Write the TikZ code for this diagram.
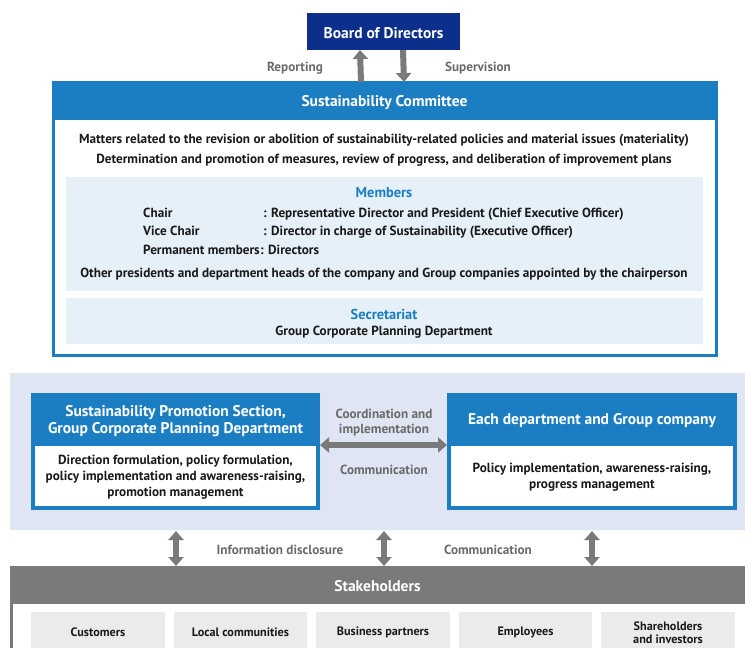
\documentclass[tikz,border=0pt]{standalone}
\usepackage{fontspec}
\setmainfont{PT Sans}
\usetikzlibrary{arrows.meta,calc}
\definecolor{navy}{HTML}{0B2F8A}
\definecolor{cblue}{HTML}{1B7EC2}
\definecolor{paleblue}{HTML}{E6F0F8}
\definecolor{lavender}{HTML}{DFE5F3}
\definecolor{arrowgray}{HTML}{7A7A7A}
\definecolor{labelgray}{HTML}{6A6A6A}
\definecolor{itemgray}{HTML}{EBEBEB}
\definecolor{ink}{HTML}{1A1A1A}
\tikzset{
  box/.style={anchor=north west, inner sep=0pt, outer sep=0pt},
  txt/.style={yshift=-1.5pt},
  title/.style={txt, font=\bfseries\fontsize{15.5}{17}\selectfont, text=white, align=center},
  body/.style={txt, font=\bfseries\fontsize{13.2}{16}\selectfont, text=ink, align=center, inner sep=0pt},
  row/.style={font=\bfseries\fontsize{13.2}{16}\selectfont, text=ink, inner sep=0pt, anchor=base west},
  sub/.style={txt, font=\bfseries\fontsize{14.4}{16}\selectfont, text=cblue, inner sep=0pt},
  lbl/.style={txt, font=\bfseries\fontsize{13.2}{14.5}\selectfont, text=labelgray, align=center, inner sep=0pt},
  item/.style={txt, font=\bfseries\fontsize{12.2}{13}\selectfont, text=ink, align=center, inner sep=0pt},
  garrow/.style={draw=arrowgray, line width=6pt, -{Triangle[width=15pt,length=9pt]}},
  gdouble/.style={draw=arrowgray, line width=6pt, {Triangle[width=15pt,length=9pt]}-{Triangle[width=15pt,length=9pt]}},
}
\begin{document}
\begin{tikzpicture}[x=1pt,y=-1pt]
\useasboundingbox (0,0) rectangle (745,648);

% Board of Directors
\node[box, fill=navy, minimum width=153, minimum height=37] (board) at (307,13) {};
\node[title] at (board.center) {Board of Directors};

% Sustainability Committee frame and header
\node[box, draw=cblue, line width=3pt, minimum width=663, minimum height=273] (comm) at (53,82) {};
\node[box, fill=cblue, minimum width=663, minimum height=38] (commhead) at (53,82) {};
\node[title] at (commhead.center) {Sustainability Committee};

% Reporting / Supervision arrows
\draw[garrow] ($(commhead.north)+(-23.5,0)$) -- ($(board.south)+(-23.5,0)$);
\draw[garrow] ($(board.south)+(19.5,0)$) -- ($(commhead.north)+(19.5,0)$);
\node[lbl] (rep) at (295,67) {Reporting};
\node[lbl] (sup) at (478,67) {Supervision};

% Committee duties
\node[body] (duty1) at (384,139) {Matters related to the revision or abolition of sustainability-related policies and material issues (materiality)};
\node[body] (duty2) at (384,159) {Determination and promotion of measures, review of progress, and deliberation of improvement plans};

% Members
\node[box, fill=paleblue, minimum width=637, minimum height=114] (members) at (66,177) {};
\node[sub] (memt) at (384,191) {Members};
\node[row] (r1a) at (143,217.5) {Chair};
\node[row] (r1b) at (263,217.5) {: Representative Director and President (Chief Executive Officer)};
\node[row] (r2a) at (143,235.5) {Vice Chair};
\node[row] (r2b) at (263,235.5) {: Director in charge of Sustainability (Executive Officer)};
\node[row] (r3a) at (143,254.5) {Permanent members};
\node[row] (r3b) at (r3a.base east) {: Directors};
\node[body] (others) at (384,273) {Other presidents and department heads of the company and Group companies appointed by the chairperson};

% Secretariat
\node[box, fill=paleblue, minimum width=637, minimum height=46] (secr) at (66,298) {};
\node[sub] (sect) at (384,313) {Secretariat};
\node[body] (secb) at (384,331) {Group Corporate Planning Department};

% Execution band
\node[box, fill=lavender, minimum width=735, minimum height=157] (band) at (10,373) {};

% Left unit
\node[box, fill=cblue, minimum width=289, minimum height=117] (left) at (31,393) {};
\node[box, fill=white, minimum width=281, minimum height=60] (leftin) at (35,446) {};
\node[title] at (175.5,419.5) {Sustainability Promotion Section,\\Group Corporate Planning Department};
\node[body] at (leftin.center) {Direction formulation, policy formulation,\\policy implementation and awareness-raising,\\promotion management};

% Right unit
\node[box, fill=cblue, minimum width=290, minimum height=117] (right) at (447,393) {};
\node[box, fill=white, minimum width=282, minimum height=60] (rightin) at (451,446) {};
\node[title] at (592,419.5) {Each department and Group company};
\node[body] at (rightin.center) {Policy implementation, awareness-raising,\\progress management};

% Coordination arrow
\draw[gdouble] (left.east |- 0,445) -- (right.west |- 0,445);
\node[lbl] (coord) at (384,421) {Coordination and\\implementation};
\node[lbl] (comm1) at (384,468) {Communication};

% Stakeholders
\node[box, fill=arrowgray, minimum width=735, minimum height=38] (stake) at (10,566) {};
\node[title] at (stake.center) {Stakeholders};
\fill[arrowgray] (10,604) rectangle (13,648);

\draw[gdouble] (176,531) -- (176,0 |- stake.north);
\draw[gdouble] (384,531) -- (384,0 |- stake.north);
\draw[gdouble] (592,531) -- (592,0 |- stake.north);
\node[lbl] (info) at (280,548) {Information disclosure};
\node[lbl] (comm2) at (488,548) {Communication};

% Stakeholder groups
\foreach \x/\w/\t [count=\i] in {31/134/Customers, 174/133/Local communities, 316/134/Business partners, 459/133/Employees, 601/134/{Shareholders\\and investors}}{
  \node[box, fill=itemgray, minimum width=\w, minimum height=40] (sh\i) at (\x,612) {};
  \node[item] at ($(sh\i.north)+(0,19)$) {\t};
}
\end{tikzpicture}
\end{document}
